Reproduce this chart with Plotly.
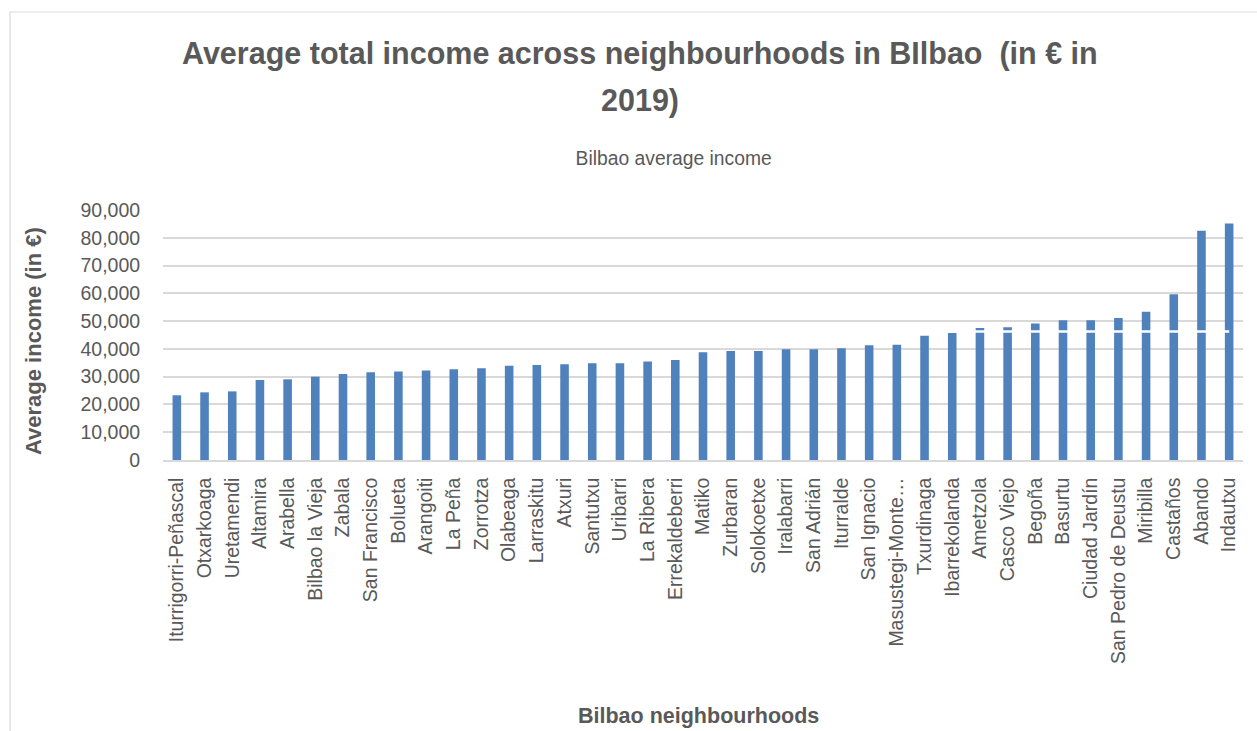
import plotly.graph_objects as go

# Neighbourhoods of Bilbao, sorted by average total income (2019, in €)
neighbourhoods = [
    "Iturrigorri-Peñascal", "Otxarkoaga", "Uretamendi", "Altamira", "Arabella",
    "Bilbao la Vieja", "Zabala", "San Francisco", "Bolueta", "Arangoiti",
    "La Peña", "Zorrotza", "Olabeaga", "Larraskitu", "Atxuri", "Santutxu",
    "Uribarri", "La Ribera", "Errekaldeberri", "Matiko", "Zurbaran",
    "Solokoetxe", "Iralabarri", "San Adrián", "Iturralde", "San Ignacio",
    "Masustegi-Monte…", "Txurdinaga", "Ibarrekolanda", "Ametzola",
    "Casco Viejo", "Begoña", "Basurtu", "Ciudad Jardín", "San Pedro de Deustu",
    "Miribilla", "Castaños", "Abando", "Indautxu",
]

average_income = [
    23300, 24350, 24700, 28800, 29050,
    30000, 30950, 31550, 31900, 32250,
    32650, 33000, 33950, 34200, 34450, 34800,
    34800, 35500, 36000, 38750, 39250,
    39250, 39850, 39850, 40200, 41300,
    41500, 44750, 45700, 47500,
    47750, 49100, 50300, 50300, 51100,
    53400, 59650, 82550, 85100,
]

# City-wide reference level
bilbao_average = [46300] * len(neighbourhoods)

y_ticks = [0, 10000, 20000, 30000, 40000, 50000, 60000, 70000, 80000, 90000]

title_lines = ["Average total income across neighbourhoods in BIlbao \u00a0(in € in", "2019)"]

TEXT = "#595959"
GRID = "#D9D9D9"
BAR = "#4F81BD"
SANS = "Liberation Sans, Arial, sans-serif"

# plot-area geometry in pixels (used to place free text in paper units)
PL, PR, PT, PB = 163, 1243, 210, 460


def px_x(x):
    return (x - PL) / (PR - PL)


def px_y(y):
    return (PB - y) / (PB - PT)


fig = go.Figure()

fig.add_trace(go.Bar(
    x=neighbourhoods,
    y=average_income,
    marker=dict(color=BAR, line=dict(width=0)),
    showlegend=False,
    name="Average income",
))

fig.add_trace(go.Scatter(
    x=neighbourhoods,
    y=bilbao_average,
    mode="lines",
    line=dict(color="#FFFFFF", width=2.5),
    name="Bilbao average income",
    showlegend=True,
))

annotations = [
    dict(
        text="<b>%s</b>" % title_lines[0],
        xref="paper", yref="paper",
        x=px_x(640), y=px_y(54),
        xanchor="center", yanchor="middle",
        showarrow=False,
        font=dict(family=SANS, size=30.5, color=TEXT),
    ),
    dict(
        text="<b>%s</b>" % title_lines[1],
        xref="paper", yref="paper",
        x=px_x(640), y=px_y(100),
        xanchor="center", yanchor="middle",
        showarrow=False,
        font=dict(family=SANS, size=30.5, color=TEXT),
    ),
    dict(
        text="<b>Average income (in €)</b>",
        xref="paper", yref="paper",
        x=px_x(33), y=px_y(341),
        xanchor="center", yanchor="middle",
        textangle=-90,
        showarrow=False,
        font=dict(family=SANS, size=22, color=TEXT),
    ),
    dict(
        text="<b>Bilbao neighbourhoods</b>",
        xref="paper", yref="paper",
        x=px_x(698), y=px_y(716),
        xanchor="center", yanchor="middle",
        showarrow=False,
        font=dict(family=SANS, size=21.5, color=TEXT),
    ),
]

fig.update_layout(
    width=1257,
    height=731,
    margin=dict(l=PL, r=1257 - PR, t=PT, b=731 - PB),
    paper_bgcolor="white",
    plot_bgcolor="white",
    bargap=0.69,
    legend=dict(
        orientation="h",
        x=0.345,
        xanchor="left",
        y=px_y(158),
        yanchor="middle",
        font=dict(family=SANS, size=19.3, color=TEXT),
        bgcolor="rgba(0,0,0,0)",
    ),
    xaxis=dict(
        type="category",
        range=[-0.5, len(neighbourhoods) - 0.5],
        tickangle=-90,
        tickfont=dict(family=SANS, size=19.5, color=TEXT),
        ticks="outside",
        ticklen=8,
        tickcolor="rgba(0,0,0,0)",
        showline=True,
        linecolor=GRID,
        linewidth=1.5,
        showgrid=False,
        automargin=False,
    ),
    yaxis=dict(
        range=[0, 90000],
        tickvals=y_ticks,
        tickformat=",d",
        tickfont=dict(family=SANS, size=19.5, color=TEXT),
        ticks="outside",
        ticklen=18,
        tickcolor="rgba(0,0,0,0)",
        showgrid=True,
        gridcolor=GRID,
        gridwidth=1.5,
        zeroline=False,
        showline=False,
        automargin=False,
    ),
    annotations=annotations,
    shapes=[
        # chart-area border
        dict(
            type="rect", xref="paper", yref="paper",
            x0=px_x(10), x1=1.06,
            y0=-1.3, y1=px_y(12),
            line=dict(color=GRID, width=1.2),
            fillcolor="rgba(0,0,0,0)",
            layer="below",
        ),
    ],
)

fig.write_html("out.html")
